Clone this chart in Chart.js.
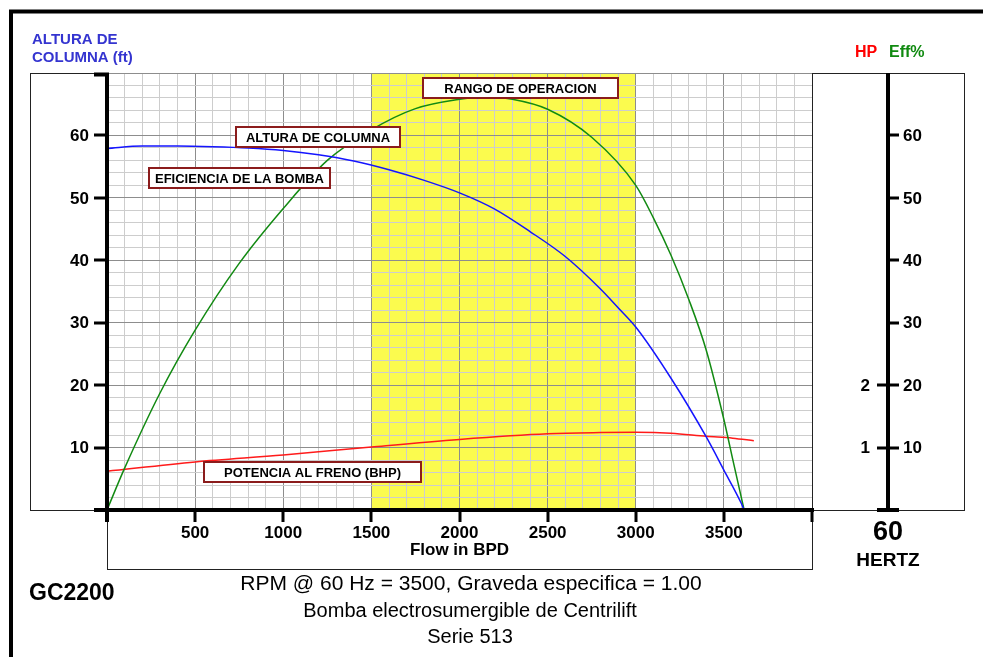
<!DOCTYPE html>
<html>
<head>
<meta charset="utf-8">
<title>GC2200 - Curva de bomba</title>
<script src="https://cdn.jsdelivr.net/npm/chart.js@4/dist/chart.umd.min.js"></script>
<style>
  html, body { margin: 0; padding: 0; background: #fff; }
  #wrap { width: 983px; height: 657px; position: relative; }
</style>
</head>
<body>
<div id="wrap"><canvas id="pump" width="983" height="657"></canvas></div>
<script>
/* ── DATA ──────────────────────────────────────────────────── */
// Altura de columna (ft) vs caudal (BPD)
const flowHead = [0, 200, 400, 600, 800, 1000, 1200, 1400, 1600, 1800, 2000, 2200, 2400, 2600, 2800, 2900, 3000, 3200, 3400, 3500, 3600, 3615];
const headFt   = [57.9, 58.3, 58.3, 58.2, 58.0, 57.6, 56.9, 55.9, 54.5, 52.8, 50.8, 48.2, 44.6, 40.6, 35.4, 32.4, 29.3, 21.1, 11.7, 6.4, 1.0, 0];

// Eficiencia de la bomba (%)
const flowEff  = [0, 100, 300, 500, 750, 1000, 1250, 1500, 1750, 2000, 2150, 2300, 2500, 2750, 3000, 3100, 3200, 3300, 3400, 3500, 3555, 3615];
const effPct   = [0, 6.7, 18.7, 28.8, 39.5, 48.3, 56.0, 60.9, 64.3, 65.8, 66.2, 65.8, 64.2, 59.7, 52.0, 46.8, 40.8, 33.8, 25.6, 14.5, 7.5, 0];

// Potencia al freno (BHP)
const flowHp   = [0, 500, 1000, 1500, 2000, 2500, 2800, 3000, 3200, 3400, 3550, 3670];
const hpBhp    = [0.62, 0.77, 0.88, 1.01, 1.13, 1.22, 1.24, 1.245, 1.23, 1.18, 1.15, 1.11];

// ejes
const xTickLabels  = [500, 1000, 1500, 2000, 2500, 3000, 3500];
const xTickMarks   = [0, 500, 1000, 1500, 2000, 2500, 3000, 3500, 4000];
const yTickLabels  = [10, 20, 30, 40, 50, 60];
const hpTickLabels = [1, 2];
const operRange    = [1500, 3000];

/* ── STYLE ─────────────────────────────────────────────────── */
const C_HEAD = "#1414ff";
const C_EFF  = "#128a12";
const C_HP   = "#ff1a1a";
const C_BOX  = "#8b1c1c";
const C_BAND = "#fbfb4e";
const FONT   = "'Liberation Sans', Arial, sans-serif";

// annotation boxes (pixel placement)
const notes = [
  { text: "RANGO DE OPERACION",      x: 423, y: 78,  w: 195, h: 20 },
  { text: "ALTURA DE COLUMNA",       x: 236, y: 127, w: 164, h: 20 },
  { text: "EFICIENCIA DE LA BOMBA",  x: 149, y: 168, w: 181, h: 20 },
  { text: "POTENCIA AL FRENO (BHP)", x: 204, y: 462, w: 217, h: 20 }
];

const zip = (xs, ys) => xs.map((x, i) => ({ x, y: ys[i] }));

/* ── PLUGIN: background + operating range ─────────────────── */
const backdrop = {
  id: "backdrop",
  beforeDraw(chart) {
    const { ctx, chartArea: a, scales: { x } } = chart;
    ctx.save();
    ctx.fillStyle = "#fff";
    ctx.fillRect(0, 0, chart.width, chart.height);
    const x1 = x.getPixelForValue(operRange[0]);
    const x2 = x.getPixelForValue(operRange[1]);
    ctx.fillStyle = C_BAND;
    ctx.fillRect(x1, a.top, x2 - x1, a.bottom - a.top);
    ctx.restore();
  }
};

/* ── PLUGIN: frames, axes, labels, notes ───────────────────── */
const decor = {
  id: "decor",
  afterDraw(chart) {
    const { ctx, chartArea: a, scales: { x, y, yHP } } = chart;
    const L = a.left, R = a.right, T = a.top, B = a.bottom;
    const axR = 888;
    ctx.save();

    // outer thick frame (top + left)
    ctx.strokeStyle = "#000"; ctx.lineWidth = 4;
    ctx.beginPath();
    ctx.moveTo(11, 657); ctx.lineTo(11, 11.5); ctx.lineTo(983, 11.5);
    ctx.stroke();

    // thin boxes
    ctx.lineWidth = 1; ctx.strokeStyle = "#222";
    ctx.strokeRect(30.5, T + 0.5, L - 30.5, B - T);
    ctx.strokeRect(R + 0.5, T + 0.5, 964 - R, B - T);
    ctx.strokeRect(L + 0.5, B, R - L, 569.5 - B);

    // left axis (thick)
    ctx.strokeStyle = "#000";
    ctx.lineWidth = 4;
    ctx.beginPath();
    ctx.moveTo(L, T); ctx.lineTo(L, B + 12);
    ctx.moveTo(94, T + 1.5); ctx.lineTo(L + 2, T + 1.5);
    ctx.moveTo(94, B); ctx.lineTo(R + 2, B);
    ctx.stroke();

    ctx.lineWidth = 3;
    ctx.beginPath();
    yTickLabels.forEach(v => {
      const py = Math.round(y.getPixelForValue(v));
      ctx.moveTo(94, py); ctx.lineTo(L, py);
    });
    xTickMarks.forEach(v => {
      const px = Math.round(x.getPixelForValue(v));
      ctx.moveTo(px, B); ctx.lineTo(px, B + 12);
    });
    ctx.stroke();

    // right axis
    ctx.lineWidth = 4;
    ctx.beginPath();
    ctx.moveTo(axR, T); ctx.lineTo(axR, B);
    ctx.moveTo(877, B); ctx.lineTo(899, B);
    ctx.stroke();
    ctx.lineWidth = 3;
    ctx.beginPath();
    yTickLabels.forEach(v => {
      const py = Math.round(y.getPixelForValue(v));
      ctx.moveTo(axR, py); ctx.lineTo(899, py);
    });
    hpTickLabels.forEach(v => {
      const py = Math.round(yHP.getPixelForValue(v));
      ctx.moveTo(877, py); ctx.lineTo(axR, py);
    });
    ctx.stroke();

    // tick labels
    ctx.fillStyle = "#000";
    ctx.font = `bold 17px ${FONT}`;
    ctx.textBaseline = "middle";
    ctx.textAlign = "right";
    yTickLabels.forEach(v => ctx.fillText(String(v), 89, y.getPixelForValue(v) + 1));
    hpTickLabels.forEach(v => ctx.fillText(String(v), 870, yHP.getPixelForValue(v) + 1));
    ctx.textAlign = "left";
    yTickLabels.forEach(v => ctx.fillText(String(v), 903, y.getPixelForValue(v) + 1));
    ctx.textAlign = "center";
    xTickLabels.forEach(v => ctx.fillText(String(v), x.getPixelForValue(v), 533));
    ctx.fillText("Flow in BPD", (L + R) / 2, 550);

    // 60 HERTZ
    ctx.font = `bold 27px ${FONT}`;
    ctx.fillText("60", axR, 533);
    ctx.font = `bold 19px ${FONT}`;
    ctx.fillText("HERTZ", axR, 561);

    // axis titles
    ctx.textAlign = "left";
    ctx.font = `bold 15px ${FONT}`;
    ctx.fillStyle = "#3434d0";
    ctx.fillText("ALTURA DE", 32, 40);
    ctx.fillText("COLUMNA (ft)", 32, 58);
    ctx.font = `bold 16px ${FONT}`;
    ctx.fillStyle = "#ff0000";
    ctx.fillText("HP", 855, 53);
    ctx.fillStyle = "#108a10";
    ctx.fillText("Eff%", 889, 53);

    // annotation boxes
    ctx.font = `bold 13px ${FONT}`;
    ctx.textAlign = "center";
    notes.forEach(n => {
      ctx.fillStyle = "#fff";
      ctx.fillRect(n.x, n.y, n.w, n.h);
      ctx.strokeStyle = C_BOX; ctx.lineWidth = 2;
      ctx.strokeRect(n.x, n.y, n.w, n.h);
      ctx.fillStyle = "#000";
      ctx.fillText(n.text, n.x + n.w / 2, n.y + n.h / 2 + 1);
    });

    // footer
    ctx.fillStyle = "#000";
    ctx.textAlign = "left";
    ctx.font = `bold 23px ${FONT}`;
    ctx.fillText("GC2200", 29, 594);
    ctx.textAlign = "center";
    ctx.font = `21px ${FONT}`;
    ctx.fillText("RPM @ 60 Hz = 3500, Graveda especifica = 1.00", 471, 584);
    ctx.font = `20px ${FONT}`;
    ctx.fillText("Bomba electrosumergible de Centrilift", 470, 611);
    ctx.fillText("Serie 513", 470, 637);

    ctx.restore();
  }
};

/* ── CHART ─────────────────────────────────────────────────── */
const gridColor = (step) => (c) =>
  Math.round(c.tick.value) % step === 0 ? "#8d8d8d" : "#cdcdcd";

new Chart(document.getElementById("pump").getContext("2d"), {
  type: "line",
  data: {
    datasets: [
      { label: "Altura de columna", data: zip(flowHead, headFt), borderColor: C_HEAD, yAxisID: "y" },
      { label: "Eficiencia", data: zip(flowEff, effPct), borderColor: C_EFF, yAxisID: "y" },
      { label: "BHP", data: zip(flowHp, hpBhp), borderColor: C_HP, yAxisID: "yHP" }
    ]
  },
  options: {
    responsive: false,
    animation: false,
    devicePixelRatio: 1,
    layout: { padding: { left: 107, top: 73, right: 171, bottom: 147 } },
    elements: {
      point: { radius: 0 },
      line: { borderWidth: 1.5, cubicInterpolationMode: "monotone", fill: false }
    },
    plugins: { legend: { display: false }, tooltip: { enabled: false } },
    scales: {
      x: {
        type: "linear", min: 0, max: 4000,
        ticks: { display: false, stepSize: 100, maxTicksLimit: 100, autoSkip: false },
        grid: { color: gridColor(500), drawTicks: false, lineWidth: 1 },
        border: { display: false },
        afterFit: s => { s.height = 0; }
      },
      y: {
        type: "linear", min: 0, max: 70,
        ticks: { display: false, stepSize: 2, maxTicksLimit: 100, autoSkip: false },
        grid: { color: gridColor(10), drawTicks: false, lineWidth: 1 },
        border: { display: false },
        afterFit: s => { s.width = 0; }
      },
      yHP: {
        type: "linear", min: 0, max: 7, position: "right",
        display: false
      }
    }
  },
  plugins: [backdrop, decor]
});
</script>
</body>
</html>
